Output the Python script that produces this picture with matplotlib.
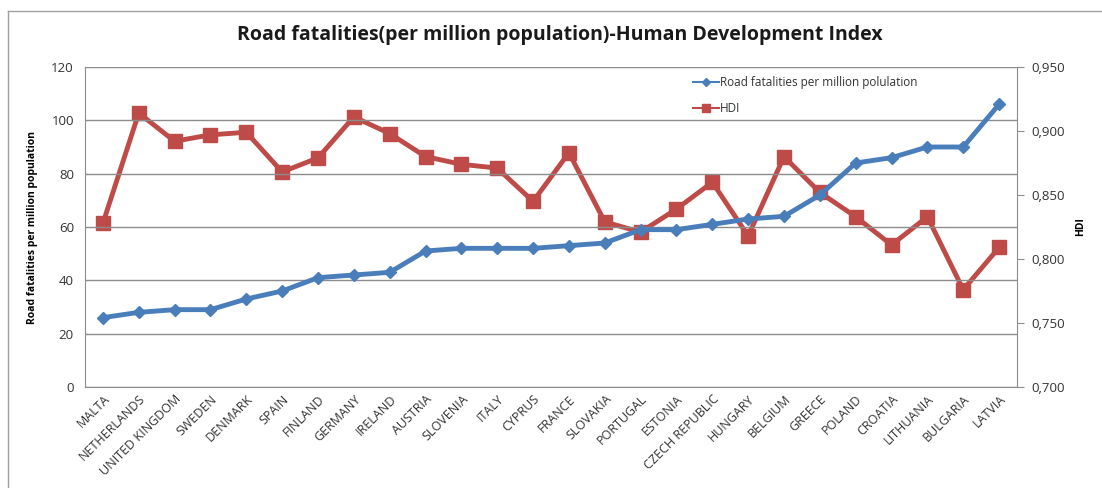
import matplotlib.pyplot as plt
from matplotlib.lines import Line2D
from matplotlib.ticker import FuncFormatter

plt.rcParams['font.family'] = ['Open Sans', 'DejaVu Sans']

# countries, sorted by road fatalities
countries = ['MALTA', 'NETHERLANDS', 'UNITED KINGDOM', 'SWEDEN', 'DENMARK', 'SPAIN',
             'FINLAND', 'GERMANY', 'IRELAND', 'AUSTRIA', 'SLOVENIA', 'ITALY', 'CYPRUS',
             'FRANCE', 'SLOVAKIA', 'PORTUGAL', 'ESTONIA', 'CZECH REPUBLIC', 'HUNGARY',
             'BELGIUM', 'GREECE', 'POLAND', 'CROATIA', 'LITHUANIA', 'BULGARIA', 'LATVIA']

# road fatalities per million population
fatalities = [26, 28, 29, 29, 33, 36, 41, 42, 43, 51, 52, 52, 52,
              53, 54, 59, 59, 61, 63, 64, 72, 84, 86, 90, 90, 106]

# human development index
hdi = [0.828, 0.914, 0.892, 0.897, 0.899, 0.868, 0.879, 0.911, 0.898, 0.880, 0.874, 0.871, 0.845,
       0.883, 0.829, 0.821, 0.839, 0.860, 0.818, 0.880, 0.852, 0.833, 0.811, 0.833, 0.776, 0.809]

blue = '#4a7ebb'
red = '#be4b48'
grid_c = '#8c8c8c'
text_c = '#333333'

fig = plt.figure(figsize=(11.02, 4.88), dpi=100)
ax = fig.add_axes([85 / 1102, 1 - 387 / 488, 932 / 1102, 320 / 488])
ax2 = ax.twinx()

x = range(len(countries))

# HDI line drawn on the secondary axis
ax2.plot(x, hdi, color=red, lw=3.5, marker='s', ms=10, zorder=3)
ax.plot(x, fatalities, color=blue, lw=3.5, marker='D', ms=6.5, zorder=4)
ax.set_zorder(ax2.get_zorder() + 1)
ax.patch.set_visible(False)

ax.set_xlim(-0.5, len(countries) - 0.5)
ax.set_ylim(0, 120)
ax.set_yticks(range(0, 121, 20))
ax2.set_ylim(0.7, 0.95)
ax2.set_yticks([0.70, 0.75, 0.80, 0.85, 0.90, 0.95])
ax2.yaxis.set_major_formatter(FuncFormatter(lambda v, p: f'{v:.3f}'.replace('.', ',')))

ax.yaxis.grid(True, color=grid_c, lw=1)
ax.set_axisbelow(True)

for a in (ax, ax2):
    a.spines['top'].set_visible(False)
    for s in ['left', 'right', 'bottom']:
        a.spines[s].set_color(grid_c)
ax.spines['right'].set_visible(False)
ax2.spines['left'].set_visible(False)
ax2.spines['bottom'].set_visible(False)

ax.tick_params(axis='y', length=0, labelsize=9.5, labelcolor=text_c, pad=8)
ax.tick_params(axis='x', length=0, labelsize=9, labelcolor=text_c, pad=4)
ax2.tick_params(axis='y', length=5, color=grid_c, labelsize=9.5, labelcolor=text_c, pad=5)

ax.set_xticks(list(x))
ax.set_xticklabels(countries, rotation=45, ha='right', rotation_mode='anchor')

ax.set_ylabel('Road fatalities per million population', fontsize=7.5, fontweight='bold',
              color='black')
ax.yaxis.set_label_coords(-0.050, 0.5)
ax2.set_ylabel('HDI', fontsize=7.5, fontweight='bold', color='black')
ax2.yaxis.set_label_coords(1.062, 0.5)

fig.text(0.508, 1 - 35 / 488, 'Road fatalities(per million population)-Human Development Index',
         ha='center', va='center', fontsize=14, fontweight='bold', color='#1a1a1a')

handles = [Line2D([], [], color=blue, lw=1.5, marker='D', ms=4),
           Line2D([], [], color=red, lw=1.5, marker='s', ms=6)]
ax.legend(handles, ['Road fatalities per million polulation', 'HDI'],
          loc='upper left', bbox_to_anchor=(0.641, 1.005), frameon=False,
          fontsize=8.5, handlelength=2.2, handletextpad=0.1, labelspacing=1.1,
          labelcolor=text_c)

# chart border (partially cropped in the original)
fig.add_artist(Line2D([8 / 1102, 1], [1 - 11 / 488, 1 - 11 / 488], color='#a0a0a0', lw=1,
                      transform=fig.transFigure))
fig.add_artist(Line2D([8 / 1102, 8 / 1102], [0, 1 - 11 / 488], color='#a0a0a0', lw=1,
                      transform=fig.transFigure))

fig.savefig('out.png', dpi=100)
